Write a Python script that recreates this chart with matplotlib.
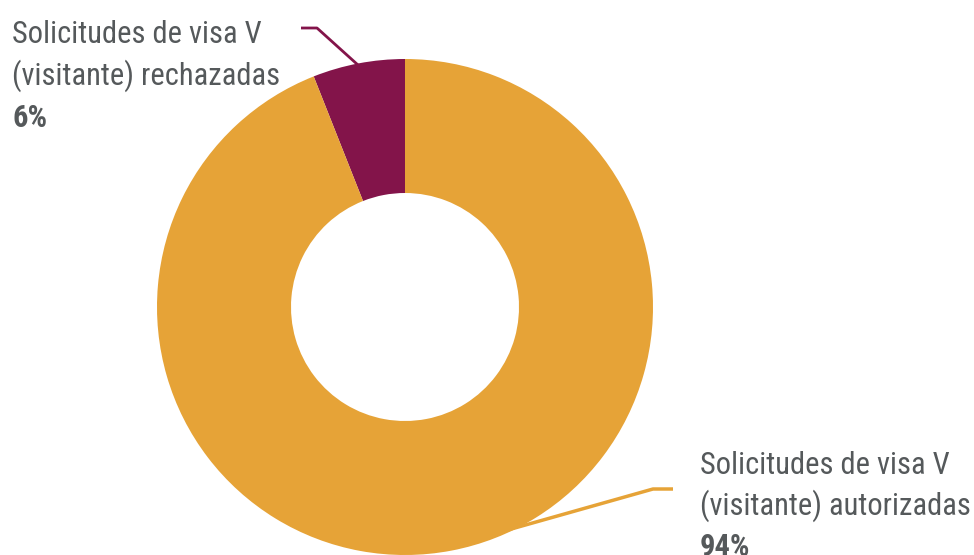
import matplotlib
matplotlib.use("Agg")
import matplotlib.pyplot as plt
from matplotlib import font_manager

# data
labels = ["Solicitudes de visa V\n(visitante) rechazadas", "Solicitudes de visa V\n(visitante) autorizadas"]
values = [6, 94]
pct_text = ["6%", "94%"]
colors = ["#83144A", "#E6A337"]

names = {f.name for f in font_manager.fontManager.ttflist}
font = "Roboto"
for cand in ["Roboto Condensed", "IBM Plex Sans Condensed", "Open Sans Condensed", "Liberation Sans Narrow"]:
    if cand in names:
        font = cand
        break
plt.rcParams["font.family"] = [font, "DejaVu Sans"]

W, H = 974, 555
fig = plt.figure(figsize=(W / 100, H / 100), dpi=100)
ax = fig.add_axes([0, 0, 1, 1])

# y axis is flipped (pixel coords), so start at 270 and go clockwise in data
cx, cy, R = 405, 307, 248
wedges, _ = ax.pie(values, colors=colors, startangle=270, counterclock=False,
                   center=(cx, cy), radius=R,
                   wedgeprops=dict(width=R - 114, linewidth=0))
ax.set_xlim(0, W)
ax.set_ylim(H, 0)
ax.set_aspect("equal")
ax.axis("off")

# leader lines
ax.plot([301, 317, 358], [28, 28, 65], color=colors[0], lw=2, solid_capstyle="butt")
ax.plot([673, 653, 451], [489, 489, 546], color=colors[1], lw=2.5, solid_capstyle="butt")

txt = "#55595B"
fs = 22
left = labels[0].split("\n")
for i, line in enumerate(left):
    ax.text(12, 43 + 42 * i, line, fontsize=fs, color=txt, va="baseline", ha="left")
ax.text(12, 127, pct_text[0], fontsize=fs, color=txt, va="baseline", ha="left", fontweight="bold")

right = labels[1].split("\n")
for i, line in enumerate(right):
    ax.text(700, 474 + 41 * i, line, fontsize=fs, color=txt, va="baseline", ha="left")
ax.text(700, 556, pct_text[1], fontsize=fs, color=txt, va="baseline", ha="left", fontweight="bold")

fig.savefig("out.png", dpi=100)
